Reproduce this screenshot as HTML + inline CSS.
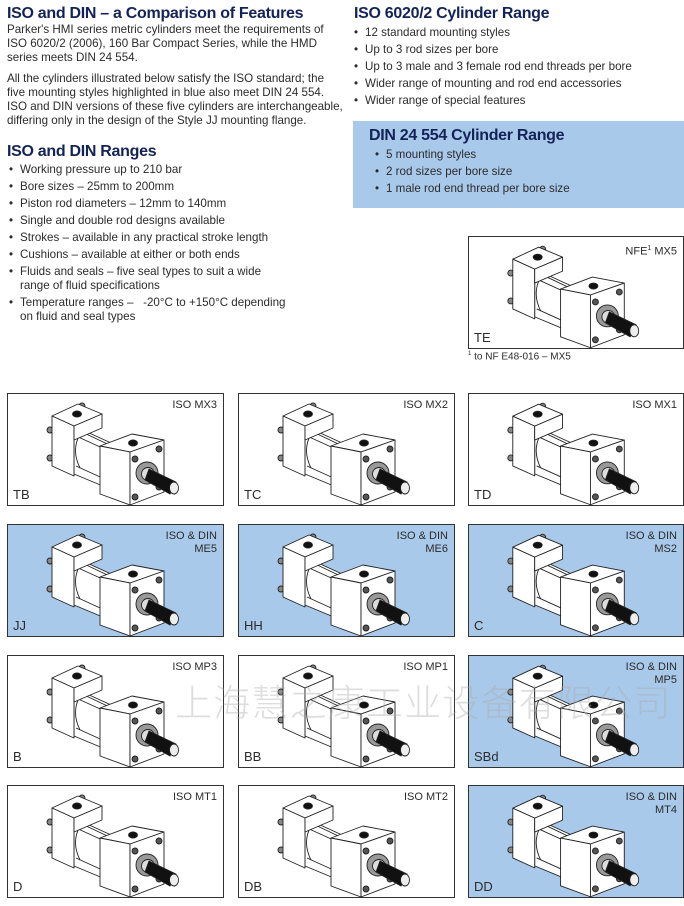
<!DOCTYPE html>
<html><head><meta charset="utf-8">
<style>
*{margin:0;padding:0;box-sizing:border-box}
body{width:684px;height:906px;background:#fff;position:relative;overflow:hidden;font-family:"Liberation Sans",Arial,sans-serif;color:#2b2b2b}
.a{position:absolute;white-space:nowrap}
h1,h2{position:absolute;font-size:16px;font-weight:bold;color:#142357;white-space:nowrap;letter-spacing:-0.3px}
.t{position:absolute;font-size:11.6px;line-height:14px;white-space:nowrap}
.b{position:absolute;font-size:11.6px;white-space:nowrap}
.b:before{content:"•";position:absolute;left:-11px}
.box{position:absolute;width:217px;height:113px;border:1.5px solid #333;background:#fff}
.blue{background:#a9c9ea}
.box svg{position:absolute;left:0;top:0}
.tr{position:absolute;right:6px;top:5px;font-size:11px;text-align:right;line-height:13px}
.bl{position:absolute;left:5px;bottom:3px;font-size:13px}
.wm{position:absolute;left:175px;top:673px;font-family:"Noto Sans CJK SC",sans-serif;font-size:37px;color:rgba(170,170,170,0.4);letter-spacing:1.2px;font-weight:300;white-space:nowrap}
</style></head><body>
<svg width="0" height="0" style="position:absolute">
<defs>
<symbol id="cyl" viewBox="0 0 217 113">
<g stroke="#222" stroke-width="0.9" fill="#fff" stroke-linejoin="round">
<circle cx="42" cy="36" r="3" fill="#888"/><circle cx="42" cy="64" r="3" fill="#888"/><circle cx="74" cy="12" r="3" fill="#888"/>
<polygon points="66,32 114,54 114,100 66,80"/>
<line x1="68" y1="42" x2="112" y2="62"/><line x1="68" y1="72" x2="112" y2="92"/><line x1="72" y1="37" x2="112" y2="56"/>
<path d="M72 40 Q63 56 72 74" fill="none"/>
<polygon points="44,22 70,10 94,20 66,32"/>
<polygon points="44,22 66,32 66,82 44,72"/>
<polygon points="66,32 94,20 94,34 66,46"/>
<polygon points="92,52 124,40 156,46 122,58"/>
<polygon points="92,52 122,58 122,111 92,100"/>
<polygon points="122,58 156,46 156,98 122,111"/>
<ellipse cx="69" cy="20" rx="4.5" ry="3" fill="#111"/>
<ellipse cx="125" cy="49" rx="4.5" ry="3" fill="#111"/>
<circle cx="127" cy="65" r="3" fill="#555"/><circle cx="151" cy="55" r="3" fill="#555"/><circle cx="127" cy="103" r="3" fill="#555"/><circle cx="151" cy="93" r="3" fill="#555"/>
<circle cx="139" cy="79" r="11" fill="#999"/><circle cx="140" cy="80" r="6.5" fill="#ddd"/>
<polygon points="141,75 168,88 162,100 137,86" fill="#111"/>
<ellipse cx="166" cy="94" rx="4.5" ry="6" fill="#eee"/>
</g>
</symbol>
</defs>
</svg>

<h1 style="left:7px;top:5px">ISO and DIN – a Comparison of Features</h1>
<div class="t" style="left:7px;top:23px">Parker's HMI series metric cylinders meet the requirements of<br>ISO 6020/2 (2006), 160 Bar Compact Series, while the HMD<br>series meets DIN 24 554.</div>
<div class="t" style="left:7px;top:72px">All the cylinders illustrated below satisfy the ISO standard; the<br>five mounting styles highlighted in blue also meet DIN 24 554.<br>ISO and DIN versions of these five cylinders are interchangeable,<br>differing only in the design of the Style JJ mounting flange.</div>
<h1 style="left:7px;top:143px">ISO and DIN Ranges</h1>
<div class="b" style="left:20px;top:163px">Working pressure up to 210 bar</div>
<div class="b" style="left:20px;top:180px">Bore sizes – 25mm to 200mm</div>
<div class="b" style="left:20px;top:197px">Piston rod diameters – 12mm to 140mm</div>
<div class="b" style="left:20px;top:214px">Single and double rod designs available</div>
<div class="b" style="left:20px;top:231px">Strokes – available in any practical stroke length</div>
<div class="b" style="left:20px;top:248px">Cushions – available at either or both ends</div>
<div class="b" style="left:20px;top:265px;line-height:14px">Fluids and seals – five seal types to suit a wide<br>range of fluid specifications</div>
<div class="b" style="left:20px;top:296px;line-height:14px">Temperature ranges –&nbsp;&nbsp; -20°C to +150°C depending<br>on fluid and seal types</div>

<h2 style="left:354px;top:5px">ISO 6020/2 Cylinder Range</h2>
<div class="b" style="left:365px;top:26px">12 standard mounting styles</div>
<div class="b" style="left:365px;top:43px">Up to 3 rod sizes per bore</div>
<div class="b" style="left:365px;top:60px">Up to 3 male and 3 female rod end threads per bore</div>
<div class="b" style="left:365px;top:77px">Wider range of mounting and rod end accessories</div>
<div class="b" style="left:365px;top:94px">Wider range of special features</div>
<div class="a" style="left:353px;top:121px;width:331px;height:87px;background:#a9c9ea"></div>
<h2 style="left:369px;top:127px">DIN 24 554 Cylinder Range</h2>
<div class="b" style="left:386px;top:148px">5 mounting styles</div>
<div class="b" style="left:386px;top:165px">2 rod sizes per bore size</div>
<div class="b" style="left:386px;top:182px">1 male rod end thread per bore size</div>

<div class="box" style="left:468px;top:236px;width:216px"><svg width="216" height="113"><use href="#cyl"/></svg><div class="tr">NFE<sup style="font-size:7px">1</sup> MX5</div><div class="bl">TE</div></div>
<div class="a" style="left:468px;top:351px;font-size:10px"><sup style="font-size:6px">1</sup> to NF E48-016 – MX5</div>

<div class="box" style="left:7px;top:393px"><svg width="217" height="113"><use href="#cyl"/></svg><div class="tr">ISO MX3</div><div class="bl">TB</div></div>
<div class="box" style="left:238px;top:393px"><svg width="217" height="113"><use href="#cyl"/></svg><div class="tr">ISO MX2</div><div class="bl">TC</div></div>
<div class="box" style="left:468px;top:393px;width:216px"><svg width="216" height="113"><use href="#cyl"/></svg><div class="tr">ISO MX1</div><div class="bl">TD</div></div>

<div class="box blue" style="left:7px;top:524px"><svg width="217" height="113"><use href="#cyl"/></svg><div class="tr">ISO &amp; DIN<br>ME5</div><div class="bl">JJ</div></div>
<div class="box blue" style="left:238px;top:524px"><svg width="217" height="113"><use href="#cyl"/></svg><div class="tr">ISO &amp; DIN<br>ME6</div><div class="bl">HH</div></div>
<div class="box blue" style="left:468px;top:524px;width:216px"><svg width="216" height="113"><use href="#cyl"/></svg><div class="tr">ISO &amp; DIN<br>MS2</div><div class="bl">C</div></div>

<div class="box" style="left:7px;top:655px"><svg width="217" height="113"><use href="#cyl"/></svg><div class="tr">ISO MP3</div><div class="bl">B</div></div>
<div class="box" style="left:238px;top:655px"><svg width="217" height="113"><use href="#cyl"/></svg><div class="tr">ISO MP1</div><div class="bl">BB</div></div>
<div class="box blue" style="left:468px;top:655px;width:216px"><svg width="216" height="113"><use href="#cyl"/></svg><div class="tr">ISO &amp; DIN<br>MP5</div><div class="bl">SBd</div></div>

<div class="box" style="left:7px;top:785px"><svg width="217" height="113"><use href="#cyl"/></svg><div class="tr">ISO MT1</div><div class="bl">D</div></div>
<div class="box" style="left:238px;top:785px"><svg width="217" height="113"><use href="#cyl"/></svg><div class="tr">ISO MT2</div><div class="bl">DB</div></div>
<div class="box blue" style="left:468px;top:785px;width:216px"><svg width="216" height="113"><use href="#cyl"/></svg><div class="tr">ISO &amp; DIN<br>MT4</div><div class="bl">DD</div></div>

<div class="wm">上海慧之康工业设备有限公司</div>
</body></html>
